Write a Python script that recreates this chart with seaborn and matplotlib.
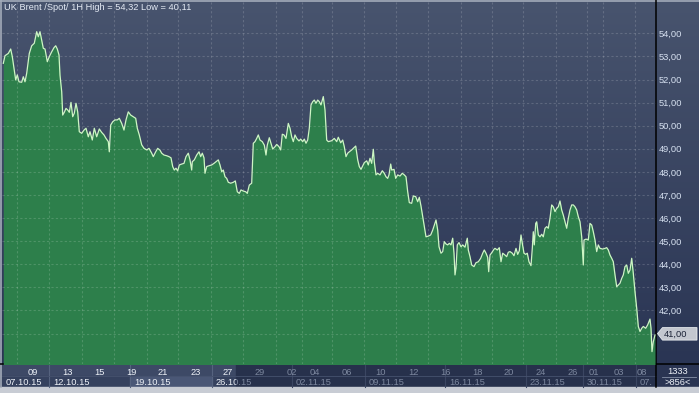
import numpy as np
import matplotlib
matplotlib.use("Agg")
import matplotlib.pyplot as plt
import matplotlib.transforms as mtransforms
from matplotlib.patches import Rectangle, Polygon
import seaborn as sns
import pandas as pd

plt.rcParams['font.family'] = ['Liberation Sans', 'DejaVu Sans']

# ---------------- data ----------------
title = "UK Brent /Spot/ 1H High = 54,32 Low = 40,11"

# chart position (bar axis units) and hourly close
pos = [3.3, 5.0, 8.3, 10.7, 12.3, 14.0, 15.7, 17.3, 19.0, 21.7,
       23.3, 25.0, 26.7, 29.3, 31.7, 34.3, 36.7, 38.3, 40.0, 41.7,
       43.3, 45.0, 47.3, 49.3, 51.7, 54.0, 55.7, 57.3, 59.0, 60.0,
       61.7, 62.7, 64.3, 66.0, 67.7, 69.3, 71.0, 72.7, 74.3, 76.0,
       77.7, 79.3, 81.7, 84.0, 86.0, 88.3, 90.0, 92.3, 94.3, 96.7,
       99.3, 101.7, 104.0, 106.0, 108.3, 109.3, 110.7, 112.7, 115.0, 117.3,
       119.3, 121.7, 124.0, 126.0, 128.3, 130.7, 133.3, 135.7, 137.3, 139.3,
       141.7, 144.0, 146.7, 149.0, 151.7, 153.3, 155.7, 157.7,
       160.0, 161.7, 164.0, 166.7, 169.0, 171.0, 172.7, 174.3, 176.0, 177.7,
       179.3, 181.7, 184.0, 186.0, 188.3, 190.0, 191.7, 192.3, 194.3, 196.7,
       199.0, 200.7, 202.3, 204.0, 205.0, 206.7, 209.3, 211.7, 214.0, 216.0,
       218.3, 220.0, 221.7, 223.3, 225.0, 226.7, 228.3, 230.7, 233.3, 235.3,
       237.3, 239.3, 241.0, 243.3, 245.7, 247.3, 249.3, 251.7, 253.3, 255.0,
       256.7, 258.3, 260.0, 262.3, 264.3, 266.0, 267.3, 269.3, 271.0, 272.7,
       275.0, 276.7, 279.0, 280.7, 282.3, 284.0, 286.0, 288.3, 290.0, 291.7,
       293.3, 295.0, 296.7, 299.0, 300.7, 302.7, 304.3, 306.0, 307.7, 309.3,
       311.0, 312.7, 314.3, 316.0, 317.7, 319.3, 321.0, 323.3, 325.0, 326.7,
       328.3,
       331.7, 334.3, 336.7, 338.3, 340.7, 342.7, 344.3, 346.0, 347.7, 349.3,
       351.7, 353.3, 355.7, 357.7, 359.3, 361.0, 362.7, 364.3, 366.7, 368.3,
       370.0, 371.7, 373.3, 374.3, 376.0, 377.7, 380.0, 382.3, 384.3, 386.0,
       387.7, 389.0, 390.7, 391.7, 394.0, 395.7, 397.7, 400.0, 402.3, 404.3,
       406.0, 407.7, 409.3, 411.7, 413.3, 415.7, 417.7, 419.3, 421.0, 422.7,
       424.3, 426.0, 428.3, 430.7, 432.7, 434.3, 436.0, 437.7, 439.0, 441.0,
       442.7, 444.3, 446.0, 447.7, 449.3, 451.0, 452.7, 454.0, 455.0, 456.0,
       457.3, 459.0, 461.0, 462.7, 465.0, 467.3, 468.3, 470.0, 471.7, 474.0,
       476.0, 478.3, 480.7, 482.7, 484.3, 486.0, 487.7, 488.7, 490.0, 491.7,
       494.0,
       495.0, 497.3, 499.3, 501.0, 502.7, 505.0, 506.7, 508.3, 510.0, 512.3,
       514.0, 516.0, 517.7, 519.3, 521.0, 522.3, 524.0, 525.7, 527.3, 529.0,
       531.0, 532.3, 533.3, 534.3, 535.7, 536.7, 538.3, 540.0, 541.7, 543.3,
       545.0, 546.7, 548.3, 550.0, 551.7, 553.3, 555.0, 556.7, 558.3, 560.0,
       561.7, 563.3, 565.0, 566.7, 568.3, 570.0, 571.7, 573.3, 575.0, 576.7,
       578.3, 580.0, 581.7, 583.3, 584.0, 586.0, 588.3, 590.0, 591.7, 593.3,
       595.0, 596.7, 598.3, 600.0, 602.7, 605.0, 606.7, 608.3, 610.0, 611.7,
       613.3, 615.0, 616.7, 618.3, 620.0, 621.7, 623.3, 625.0, 626.7, 628.3,
       630.0, 631.7, 633.3, 635.0, 636.7, 638.3, 640.0, 641.7, 643.3, 645.7,
       647.7, 650.0, 651.0, 652.0, 653.3, 655.0]

price = [52.70, 53.03, 53.13, 53.32, 52.99, 52.48, 51.98, 52.20, 51.90, 51.88,
         52.12, 51.90, 52.27, 53.13, 53.46, 53.57, 54.07, 53.85, 54.07, 53.71,
         53.35, 53.32, 52.77, 52.99, 53.20, 53.38, 53.46, 53.32, 53.06, 52.19,
         51.47, 50.46, 50.58, 50.75, 50.68, 50.58, 51.01, 50.39, 50.54, 50.97,
         50.60, 49.74, 49.67, 49.81, 49.89, 49.52, 49.74, 49.38, 49.89, 49.52,
         49.86, 49.71, 49.60, 49.45, 49.31, 48.87, 50.03, 50.17, 50.25, 50.25,
         50.32, 50.10, 49.81, 50.25, 50.60, 50.46, 50.39, 50.32, 49.89, 49.60,
         49.17, 49.02, 48.95, 49.02, 48.81, 48.66, 48.87, 49.02,
         48.94, 48.81, 48.73, 48.70, 48.66, 48.61, 48.23, 48.08, 48.16, 48.04,
         48.30, 48.34, 48.37, 48.66, 48.81, 48.52, 48.08, 48.44, 48.52, 48.73,
         48.87, 48.66, 48.81, 48.61, 47.94, 48.23, 48.27, 48.30, 48.37, 48.44,
         48.52, 48.30, 48.01, 48.08, 47.79, 47.72, 47.55, 47.51, 47.55, 47.61,
         47.14, 47.07, 47.22, 47.17, 47.14, 47.07, 47.43, 47.51, 49.24, 49.31,
         49.45, 49.60, 49.38, 49.31, 49.16, 48.73, 49.16, 49.48, 49.24, 48.99,
         49.09, 49.19, 49.09, 48.95, 49.63, 49.60, 49.45, 50.10, 49.89, 49.52,
         49.31, 49.60, 49.45, 49.34, 49.42, 49.31, 49.42, 49.24, 49.38, 49.89,
         50.90, 51.04, 51.11, 50.97, 51.11, 51.04, 50.90, 51.26, 50.68, 49.38,
         49.31,
         49.35, 49.45, 49.31, 49.50, 49.26, 49.38, 49.09, 48.66, 48.81, 48.87,
         48.95, 49.02, 49.12, 48.52, 48.23, 48.11, 48.26, 48.40, 48.48, 48.30,
         48.59, 48.37, 48.98, 48.44, 47.87, 47.94, 47.87, 48.05, 47.94, 47.79,
         47.72, 47.87, 48.34, 48.08, 48.11, 47.72, 47.87, 47.82, 47.94, 47.87,
         47.79, 47.14, 46.67, 46.64, 46.96, 46.93, 46.71, 46.90, 46.52, 46.06,
         45.63, 45.19, 45.22, 45.27, 45.48, 45.70, 45.92, 45.48, 44.76, 44.48,
         44.55, 44.98, 44.88, 44.84, 44.91, 44.84, 45.13, 44.48, 43.54, 43.83,
         44.84, 44.94, 44.76, 44.84, 44.74, 45.13, 44.62, 44.33, 43.97, 43.90,
         44.07, 44.11, 44.26, 44.48, 44.62, 44.48, 44.30, 43.68, 44.40, 44.50,
         44.65,
         44.69, 44.62, 44.72, 44.11, 44.48, 44.40, 44.33, 44.52, 44.55, 44.48,
         44.37, 44.69, 44.43, 44.58, 45.27, 44.91, 44.48, 44.43, 44.48, 44.11,
         43.94, 44.69, 45.41, 44.84, 45.77, 45.84, 45.27, 45.19, 45.30, 45.19,
         45.56, 45.63, 45.56, 45.99, 46.57, 46.49, 46.28, 46.42, 46.49, 46.74,
         46.35, 46.13, 45.84, 45.56, 45.99, 46.35, 46.57, 46.57, 46.49, 46.35,
         46.06, 45.84, 45.19, 43.97, 45.05, 45.09, 45.05, 45.77, 45.70, 45.41,
         45.05, 44.55, 44.84, 44.69, 44.66, 44.69, 44.72, 44.62, 44.40, 44.26,
         44.11, 43.54, 43.03, 43.10, 43.18, 43.39, 43.54, 43.90, 43.97, 43.61,
         43.75, 44.26, 43.61, 42.81, 42.10, 41.31, 41.09, 41.23, 41.31, 41.23,
         41.38, 41.63, 41.23, 40.22, 40.65, 40.94]

price_ticks = [41, 42, 43, 44, 45, 46, 47, 48, 49, 50, 51, 52, 53, 54]
marker_price = 41
last_price_label = "41,00"

day_tick_pos = [33, 67, 99, 131, 163, 196, 228, 260, 292, 315, 347,
                380, 413, 445, 477, 509, 541, 573, 594, 619, 642]
day_tick_labels = ["09", "13", "15", "19", "21", "23", "27", "29", "02", "04", "06",
                   "10", "12", "16", "18", "20", "24", "26", "01", "03", "08"]
week_start = [2, 49, 130, 212, 292, 365, 445, 526, 583, 636]
week_labels = ["07.10.15", "12.10.15", "19.10.15", "26.10.15", "02.11.15",
               "09.11.15", "16.11.15", "23.11.15", "30.11.15", "07.12.15"]
grid_x = [17, 49, 82, 114, 147, 178, 211, 243, 276, 302, 332, 364, 396,
          428, 461, 492, 523, 556, 587, 603, 635]
bars_total = "1333"
bars_visible = ">856<"

# ---------------- figure ----------------
W, H = 699, 393
fig = plt.figure(figsize=(W / 100, H / 100), dpi=100)
fig.patch.set_facecolor('#2b3653')

bg = fig.add_axes([0, 0, 1, 1], zorder=0)
bg.set_xlim(0, W)
bg.set_ylim(H, 0)
bg.axis('off')

# gradient background of chart + right scale
top_c = np.array([72, 84, 110]) / 255
bot_c = np.array([42, 53, 84]) / 255
g = np.linspace(0, 1, 256)[:, None, None]
grad = top_c * (1 - g) + bot_c * g
bg.imshow(grad, extent=(0, W, 364, 0), aspect='auto', origin='upper', zorder=0)

# bottom band
light_end = 236
bg.add_patch(Rectangle((0, 364), light_end, 12, color='#3d4966', zorder=1))
bg.add_patch(Rectangle((0, 376), light_end, 11, color='#35415e', zorder=1))
bg.add_patch(Rectangle((light_end, 364), 656 - light_end, 23, color='#27314c', zorder=1))
bg.add_patch(Rectangle((130, 376), 82, 11, color='#4a5776', zorder=1))
bg.add_patch(Rectangle((656, 364), W - 656, 23, color='#2a3452', zorder=1))
bg.add_patch(Rectangle((0, 387), W, 6, color='#c8ccd4', zorder=1))
for ws in week_start[1:]:
    col = '#56637f' if ws < light_end else '#3b4662'
    bg.plot([ws, ws], [364, 387], color=col, lw=0.8, zorder=2)
bg.plot([0, 656], [376, 376], color='#46526e', lw=0.6, zorder=2)

# borders
bg.plot([0.5, 0.5], [0, 387], color='#a3abb9', lw=1.2, zorder=3)
bg.plot([0, W], [0.5, 0.5], color='#a3abb9', lw=1.2, zorder=3)
bg.plot([656, 656], [0, 387], color='black', lw=1.1, zorder=3)
bg.plot([0, W], [364, 364], color='black', lw=1.1, zorder=3)

# main chart
y_lo = 54 - (364 - 33.3) / 23.1
y_hi = 54 + (33.3 - 2) / 23.1
ax = fig.add_axes([2 / W, (H - 364) / H, 654 / W, 362 / H], zorder=2)
ax.patch.set_alpha(0)
ax.set_xlim(2, 656)
ax.set_ylim(y_lo, y_hi)
for s in ax.spines.values():
    s.set_visible(False)

df = pd.DataFrame({'pos': pos, 'price': price})
ax.fill_between(df['pos'], df['price'], y_lo - 1, color='#2d7f4b', lw=0, zorder=1)
for v in price_ticks:
    ax.axhline(v, color='white', alpha=0.16, lw=0.8, ls=(0, (2, 2)), zorder=2)
for gx in grid_x:
    ax.axvline(gx, color='white', alpha=0.16, lw=0.8, ls=(0, (2, 2)), zorder=2)
sns.lineplot(data=df, x='pos', y='price', ax=ax, color='#cdf6c4', lw=0.9,
             sort=False, estimator=None, zorder=3)
ax.set_xlabel('')
ax.set_ylabel('')

ax.yaxis.tick_right()
ax.set_yticks(price_ticks)
ax.set_yticklabels(["" if v == marker_price else f"{v},00" for v in price_ticks])
ax.tick_params(axis='y', length=0, pad=1.8, labelsize=6.7, labelcolor='#d6e0f0')

ax.set_xticks(day_tick_pos)
ax.set_xticklabels(day_tick_labels)
ax.tick_params(axis='x', length=0, pad=3.2, labelsize=6.7)
for lab, p in zip(ax.get_xticklabels(), day_tick_pos):
    lab.set_color('#eef2f8' if p < light_end else '#7d889f')

ax.text(0.003, 0.984, title, transform=ax.transAxes, ha='left', va='center',
        fontsize=6.7, color='#e4eaf4', zorder=5)

# week labels in bottom row (white on light part, grey on dark part)
trans = mtransforms.blended_transform_factory(ax.transData, bg.transData)
clip_light = Rectangle((0, 364), light_end, 23, transform=bg.transData)
clip_dark = Rectangle((light_end, 364), 656 - light_end, 23, transform=bg.transData)
renderer = fig.canvas.get_renderer()
px_right = bg.transData.transform((655, 0))[0]
for ws, lab in zip(week_start, week_labels):
    shown = lab
    # the last label is cut off by the price scale, as in the terminal
    while shown:
        probe = ax.text(ws + 4, 382.5, shown, transform=trans, ha='left', va='center',
                        fontsize=6.7)
        ext = probe.get_window_extent(renderer)
        probe.remove()
        if ext.x1 <= px_right:
            break
        shown = shown[:-1]
    regions = []
    if ws < light_end:
        regions.append(('#eef2f8', clip_light))
    if ws + 40 > light_end:
        regions.append(('#7d889f', clip_dark))
    for col, cp in regions:
        t = ax.text(ws + 4, 382.5, shown, transform=trans, ha='left', va='center',
                    fontsize=6.7, color=col, zorder=5, clip_on=True)
        t.set_clip_path(cp)

# last price marker
y41 = 33.3 + (54 - marker_price) * 23.1
bg.add_patch(Polygon([(657.5, y41), (662.5, y41 - 6), (697, y41 - 6), (697, y41 + 6.5),
                      (662.5, y41 + 6.5)], closed=True, facecolor='#c3c7cf',
                     edgecolor='#e6e9ee', lw=0.6, zorder=6))
bg.text(664, y41 + 0.3, last_price_label, ha='left', va='center', fontsize=6.7,
        color='#1b2236', zorder=7)

# bar counters
bg.text(678, 371, bars_total, ha='center', va='center', fontsize=6.7, color='#eef2f8', zorder=7)
bg.plot([662, 696], [377, 377], color='#8590a6', lw=0.6, zorder=7)
bg.text(678, 382.5, bars_visible, ha='center', va='center', fontsize=6.7, color='#eef2f8', zorder=7)

fig.savefig('out.png', dpi=100, facecolor=fig.get_facecolor())
